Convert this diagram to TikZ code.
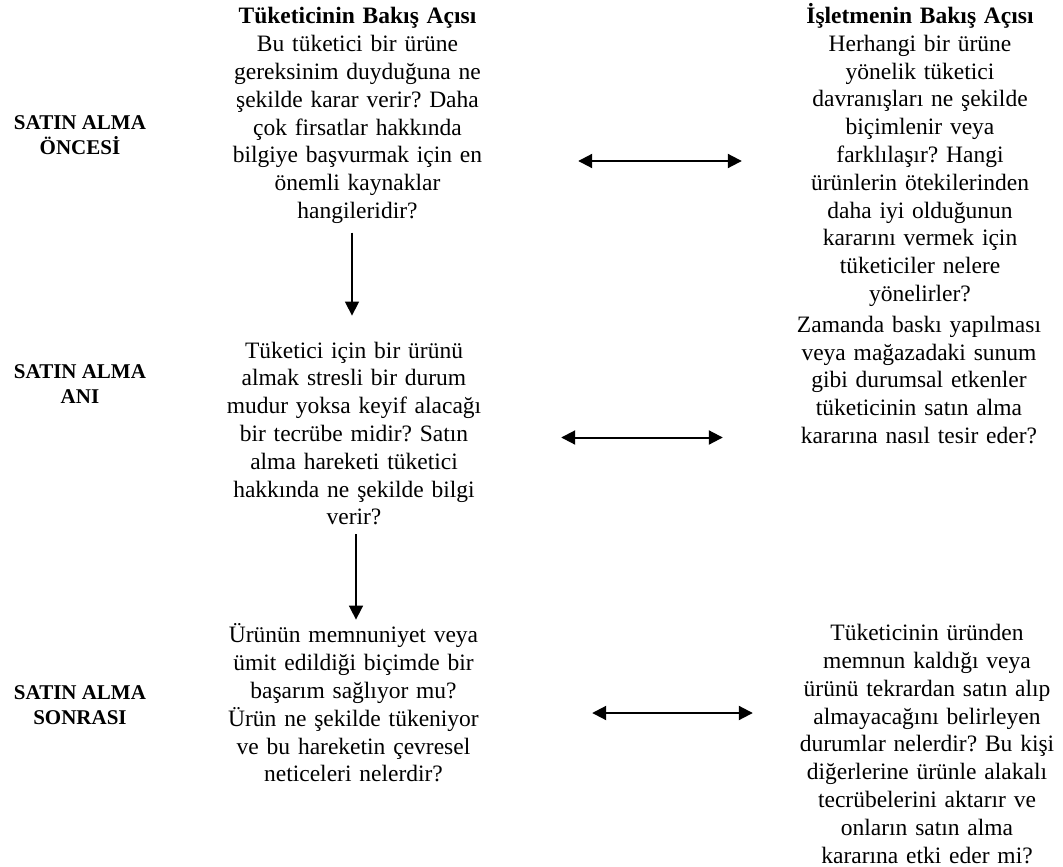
\documentclass[tikz,border=0pt]{standalone}
\usepackage{fontspec}
\setmainfont{Liberation Serif}
\usetikzlibrary{arrows.meta}
\frenchspacing

\tikzset{
  body/.style={align=center, inner sep=0pt, text width=280pt,
    font=\fontsize{23.5}{27.8}\selectfont},
  stage/.style={align=center, inner sep=0pt,
    font=\bfseries\fontsize{21}{24.5}\selectfont},
  flow/.style={line width=1.6pt, -{Triangle[length=14pt,width=14pt]}},
  pair/.style={line width=2pt,
    {Triangle[length=14pt,width=14pt]}-{Triangle[length=14pt,width=14pt]}}
}

\begin{document}
\begin{tikzpicture}[x=1pt,y=-1pt]
\path[use as bounding box] (0,0) rectangle (1063,867);

% stage labels
\node[stage] (l1) at (80,135) {SATIN ALMA\\ÖNCESİ};
\node[stage] (l2) at (80,384) {SATIN ALMA\\ANI};
\node[stage] (l3) at (80,705) {SATIN ALMA\\SONRASI};

% consumer column
\node[body] (c1) at (357.5,115.5) {\textbf{Tüketicinin Bakış Açısı}\\Bu tüketici bir ürüne\\gereksinim duyduğuna ne\\şekilde karar verir? Daha\\çok firsatlar hakkında\\bilgiye başvurmak için en\\önemli kaynaklar\\hangileridir?};
\node[body] (c2) at (354,433.5) {Tüketici için bir ürünü\\almak stresli bir durum\\mudur yoksa keyif alacağı\\bir tecrübe midir? Satın\\alma hareketi tüketici\\hakkında ne şekilde bilgi\\verir?};
\node[body] (c3) at (353.5,703) {Ürünün memnuniyet veya\\ümit edildiği biçimde bir\\başarım sağlıyor mu?\\Ürün ne şekilde tükeniyor\\ve bu hareketin çevresel\\neticeleri nelerdir?};

% business column
\node[body] (r1) at (920,155) {\textbf{İşletmenin Bakış Açısı}\\Herhangi bir ürüne\\yönelik tüketici\\davranışları ne şekilde\\biçimlenir veya\\farklılaşır? Hangi\\ürünlerin ötekilerinden\\daha iyi olduğunun\\kararını vermek için\\tüketiciler nelere\\yönelirler?};
\node[body] (r2) at (919,380) {Zamanda baskı yapılması\\veya mağazadaki sunum\\gibi durumsal etkenler\\tüketicinin satın alma\\kararına nasıl tesir eder?};
\node[body] (r3) at (927,744) {Tüketicinin üründen\\memnun kaldığı veya\\ürünü tekrardan satın alıp\\almayacağını belirleyen\\durumlar nelerdir? Bu kişi\\diğerlerine ürünle alakalı\\tecrübelerini aktarır ve\\onların satın alma\\kararına etki eder mi?};

% downward flow between stages
\draw[flow, shorten <=9pt, shorten >=26pt] ([xshift=-5.5pt]c1.south) -- ([xshift=-2pt]c2.north);
\draw[flow, shorten <=9pt, shorten >=4pt] ([xshift=2pt]c2.south) -- ([xshift=2.5pt]c3.north);

% two-way links between the viewpoints
\draw[pair, shorten <=80.5pt, shorten >=38pt] (c1.east |- 0,161) -- (r1.west |- 0,161);
\draw[pair, shorten <=67pt, shorten >=56pt] (c2.east |- 0,437.5) -- (r2.west |- 0,437.5);
\draw[pair, shorten <=98.5pt, shorten >=34pt] (c3.east |- 0,713) -- (r3.west |- 0,713);
\end{tikzpicture}
\end{document}
